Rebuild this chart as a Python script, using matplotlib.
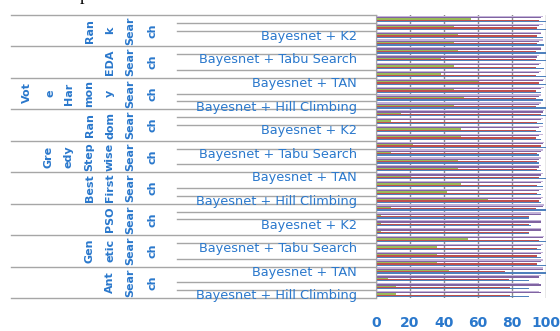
import numpy as np
import matplotlib
matplotlib.use('Agg')
import matplotlib.pyplot as plt
import matplotlib.transforms as mtransforms

# categories, top to bottom
search_lines = [['Ran', 'k', 'Sear', 'ch'],
                ['EDA', 'Sear', 'ch'],
                ['Har', 'mon', 'y', 'Sear', 'ch'],
                ['Ran', 'dom', 'Sear', 'ch'],
                ['Gre', 'edy', 'Step', 'wise', 'Sear', 'ch'],
                ['Best', 'First', 'Sear', 'ch'],
                ['PSO', 'Sear', 'ch'],
                ['Gen', 'etic', 'Sear', 'ch'],
                ['Ant', 'Sear', 'ch']]
outer_lines = ['Vot', 'e']
classifiers = ['Bayesnet + TAN', 'Bayesnet + Tabu Search',
               'Bayesnet + K2', 'Bayesnet + Hill Climbing']

categories = [c for s in search_lines for c in classifiers]

# series values, one per category (top to bottom)
series_blue = [100, 100, 98, 99, 100, 100, 99, 100, 100, 97, 98, 100,
               100, 98, 97, 97, 100, 96, 96, 97, 100, 98, 97, 97,
               100, 90, 91, 90, 100, 97, 97, 100, 100, 90, 90, 90]
series_red = [96, 95, 95, 95, 94, 94, 94, 94, 96, 94, 94, 94,
              97, 95, 94, 94, 97, 95, 95, 95, 96, 95, 95, 96,
              94, 90, 90, 90, 96, 95, 95, 95, 76, 78, 79, 79]
series_green = [56, 46, 48, 46, 48, 38, 46, 38, 60, 46, 52, 46,
                15, 9, 50, 50, 22, 9, 48, 48, 20, 50, 42, 66,
                9, 3, 3, 3, 54, 36, 36, 36, 43, 7, 12, 12]
series_purple = [97, 96, 97, 96, 97, 95, 96, 96, 98, 97, 96, 96,
                 98, 97, 96, 96, 98, 97, 96, 96, 97, 97, 96, 97,
                 98, 97, 97, 97, 98, 97, 97, 97, 98, 96, 97, 97]
series_lav = [98, 98, 97, 98, 97, 96, 97, 97, 99, 99, 97, 97,
              99, 98, 98, 98, 99, 98, 97, 97, 98, 98, 98, 98,
              99, 97, 97, 97, 99, 98, 98, 98, 98, 97, 96, 96]

xticks = [0, 20, 40, 60, 80, 100]

W, H = 560, 331
txt_blue = '#2A78CC'
line_gray = '#A6A6A6'

fig = plt.figure(figsize=(W / 100, H / 100), dpi=100)
ax = fig.add_axes([376 / W, 1 - 298 / H, 170 / W, 283 / H])

n = len(categories)
y = np.arange(n)
bh = 0.16
series = [(series_lav, '#C3B3D9', -0.32),
          (series_purple, '#8064A2', -0.16),
          (series_green, '#9BBB59', 0.0),
          (series_red, '#C0504D', 0.16),
          (series_blue, '#4F81BD', 0.32)]
for vals, col, off in series:
    ax.barh(y + off, vals, height=bh, color=col, linewidth=0)

ax.set_xlim(0, 100)
ax.set_ylim(n - 0.5, -0.5)
ax.set_xticks(xticks)
ax.set_yticks([])
ax.xaxis.grid(True, color='#8C8C8C', lw=1)
ax.set_axisbelow(True)
for s in ['top', 'right', 'bottom']:
    ax.spines[s].set_visible(False)
ax.spines['left'].set_color(line_gray)
ax.tick_params(axis='x', length=0, pad=13, labelcolor=txt_blue, labelsize=10)
for lab in ax.get_xticklabels():
    lab.set_fontweight('bold')

# category axis drawn by hand
tr = mtransforms.blended_transform_factory(fig.transFigure, ax.transData)
px = lambda v: v / W

for k in range(n + 1):
    yb = k - 0.5
    if k % 4 == 0:
        ax.plot([px(11), px(376)], [yb, yb], color=line_gray, lw=1,
                transform=tr, clip_on=False)
    elif k % 3 != 0:
        ax.plot([px(177), px(376)], [yb, yb], color=line_gray, lw=1,
                transform=tr, clip_on=False)

for j in range(n // 3):
    idx = 3 * j + 2
    ax.text(px(357), idx + 0.22, categories[idx], transform=tr,
            ha='right', va='center', color=txt_blue, fontsize=9.3)

for g, lines in enumerate(search_lines):
    yc = 4 * g + 1.5
    for i, word in enumerate(reversed(lines)):
        ax.text(px(153 - 20.5 * i - (2 if i > 0 else 0)), yc, word,
                transform=tr, rotation=90, ha='center', va='center',
                color=txt_blue, fontsize=8, fontweight='bold')

for i, word in enumerate(outer_lines):
    fig.text(px(27 + 23 * i), 1 - 93 / H, word, rotation=90,
             ha='center', va='center', color=txt_blue, fontsize=8,
             fontweight='bold')

# bit of the cropped title
fig.text(px(80), 1 + 0.5 / H, 'p', ha='left', va='baseline',
         family='Liberation Serif', fontsize=13, color='black')

fig.savefig('out.png', dpi=100)
